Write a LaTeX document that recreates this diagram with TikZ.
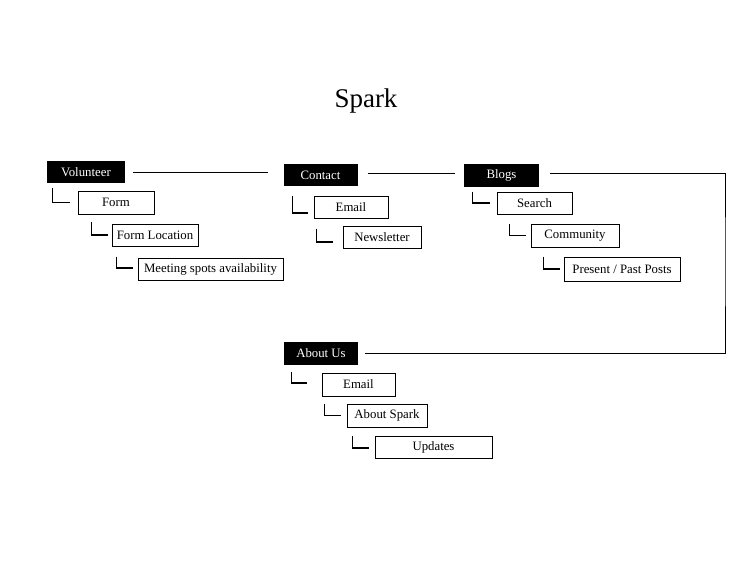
\documentclass[tikz,border=0pt]{standalone}
\usepackage{fontspec}
\setmainfont{Liberation Serif}
\begin{document}
\begin{tikzpicture}[x=1pt,y=-1pt,
  topbox/.style={fill=black,text=white,inner sep=0pt,font=\fontsize{12.8}{14}\selectfont},
  subbox/.style={draw=black,line width=1pt,fill=white,inner sep=0pt,font=\fontsize{12.8}{14}\selectfont},
  link/.style={line width=0.9pt},
  bracket/.style={line width=1.1pt}]
\useasboundingbox (0,0) rectangle (750,563);
\node[font=\fontsize{27}{30}\selectfont] (title) at (366,101) {Spark};
% top level
\node[topbox,minimum width=78pt,minimum height=22pt] (vol) at (86,172) {Volunteer};
\node[topbox,minimum width=74pt,minimum height=22pt] (con) at (320.5,175) {Contact};
\node[topbox,minimum width=75pt,minimum height=23pt] (blog) at (501.5,175.5) {Blogs};
\node[topbox,minimum width=74pt,minimum height=23pt] (about) at (321,353.5) {About Us};
% volunteer branch
\node[subbox,minimum width=76pt,minimum height=23pt] (form) at (116,202.5) {Form};
\node[subbox,minimum width=86pt,minimum height=22pt] (floc) at (155,235) {Form Location};
\node[subbox,minimum width=145pt,minimum height=22pt] (meet) at (210.5,269) {Meeting spots availability};
% contact branch
\node[subbox,minimum width=74pt,minimum height=22pt] (cmail) at (351,207) {Email};
\node[subbox,minimum width=78pt,minimum height=22pt] (news) at (382,237) {Newsletter};
% blogs branch
\node[subbox,minimum width=75pt,minimum height=22pt] (search) at (534.5,203) {Search};
\node[subbox,minimum width=88pt,minimum height=23pt] (comm) at (575,235.5) {Community};
\node[subbox,minimum width=116pt,minimum height=24pt] (posts) at (622,269) {Present / Past Posts};
% about branch
\node[subbox,minimum width=73pt,minimum height=23pt] (amail) at (358.5,384.5) {Email};
\node[subbox,minimum width=80pt,minimum height=23pt] (aspark) at (387,415.5) {About Spark};
\node[subbox,minimum width=117pt,minimum height=22pt] (upd) at (433.5,447) {Updates};
% horizontal links between sections
\draw[link] ([xshift=8pt]vol.east) -- ([xshift=-15pt,yshift=3pt]con.west);
\draw[link] ([xshift=10pt,yshift=2pt]con.east) -- ([xshift=-9pt,yshift=2.5pt]blog.west);
\coordinate (rt) at (725,260);
\draw[link] ([xshift=11pt,yshift=2.5pt]blog.east) -| (rt) |- ([xshift=7pt]about.east);
% bracket connectors
\draw[bracket] ([xshift=-25pt,yshift=3pt]form.north west) |- ([xshift=-8pt]form.west);
\draw[bracket] ([xshift=-20pt,yshift=2pt]floc.north west) |- ([xshift=-4pt]floc.west);
\draw[bracket] ([xshift=-21pt,yshift=1pt]meet.north west) |- ([xshift=-5pt,yshift=1pt]meet.west);
\draw[bracket] ([xshift=-21pt]cmail.north west) |- ([xshift=-6pt,yshift=-6pt]cmail.west);
\draw[bracket] ([xshift=-26pt,yshift=-3pt]news.north west) |- ([xshift=-10pt,yshift=-5pt]news.west);
\draw[bracket] ([xshift=-24pt]search.north west) |- ([xshift=-7pt]search.west);
\draw[bracket] ([xshift=-21pt]comm.north west) |- ([xshift=-5pt]comm.west);
\draw[bracket] ([xshift=-20pt]posts.north west) |- ([xshift=-4pt]posts.west);
\draw[bracket] ([xshift=-30pt,yshift=1pt]amail.north west) |- ([xshift=-15pt,yshift=1.5pt]amail.west);
\draw[bracket] ([xshift=-22pt]aspark.north west) |- ([xshift=-6pt]aspark.west);
\draw[bracket] ([xshift=-22pt]upd.north west) |- ([xshift=-6pt,yshift=-1pt]upd.west);
\end{tikzpicture}
\end{document}
